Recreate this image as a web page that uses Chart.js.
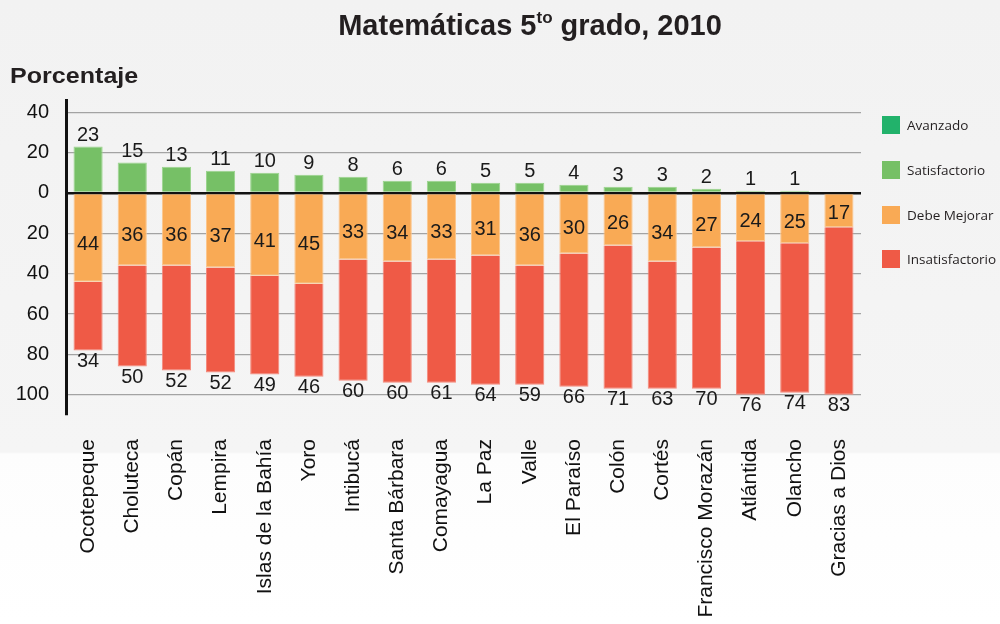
<!DOCTYPE html>
<html>
<head>
<meta charset="utf-8">
<script src="https://cdn.jsdelivr.net/npm/chart.js@4/dist/chart.umd.min.js"></script>
<style>
  html, body { margin:0; padding:0; }
  body { width:1000px; height:624px; position:relative; overflow:hidden;
         background: linear-gradient(to bottom, #f2f2f2 0px, #f5f5f5 452px, #fdfdfd 454px, #ffffff 624px);
         font-family: "Liberation Sans", Arial, sans-serif; }
  #wrap { position:absolute; left:0; top:0; width:1000px; height:624px; }
  #title { position:absolute; left:0; width:1060px; top:9px; text-align:center;
           font-weight:bold; font-size:29px; color:#231f20; }
  #title sup { font-size:17px; position:relative; top:0px; vertical-align:top; line-height:1; }
  #ylab { position:absolute; left:10px; top:63px; font-weight:bold; font-size:22px; color:#231f20;
          transform:scaleX(1.14); transform-origin:left top; }
  .leg { position:absolute; left:882px; font-family:"Open Sans", "Noto Sans", sans-serif; font-size:13.5px; color:#231f20; }
  .leg span.box { position:absolute; left:0; top:0; width:18px; height:18px; }
  .leg span.txt { position:absolute; left:25px; top:0px; white-space:nowrap; line-height:18px; }
</style>
</head>
<body>
<div id="wrap"><canvas id="c" width="1000" height="624"></canvas></div>
<div id="title">Matemáticas 5<sup>to</sup> grado, 2010</div>
<div id="ylab">Porcentaje</div>
<div id="legend"></div>
<script>
const categories = ["Ocotepeque","Choluteca","Copán","Lempira","Islas de la Bahía","Yoro","Intibucá","Santa Bárbara","Comayagua","La Paz","Valle","El Paraíso","Colón","Cortés","Francisco Morazán","Atlántida","Olancho","Gracias a Dios"];
const avanzado        = [0,0,0,0,0,0,0,0,0,0,0,0,0,0,0,0,0,0];
const satisfactorio   = [23,15,13,11,10,9,8,6,6,5,5,4,3,3,2,1,1,0];
const debeMejorar     = [44,36,36,37,41,45,33,34,33,31,36,30,26,34,27,24,25,17];
const insatisfactorio = [34,50,52,52,49,46,60,60,61,64,59,66,71,63,70,76,74,83];
const yTicks = [-100,-80,-60,-40,-20,0,20,40];

const seriesNames = ["Avanzado","Satisfactorio","Debe Mejorar","Insatisfactorio"];
const colors = { "Avanzado":"#22b26b", "Satisfactorio":"#76c066", "Debe Mejorar":"#f9aa55", "Insatisfactorio":"#ef5a46" };
const edges  = { "Avanzado":"#5fc990", "Satisfactorio":"#9ad48d", "Debe Mejorar":"#fcc68c", "Insatisfactorio":"#f48a7c" };

// legend
const legY = [116, 161, 206, 250];
const legDiv = document.getElementById('legend');
seriesNames.forEach((n,i)=>{
  const d = document.createElement('div');
  d.className='leg'; d.style.top = legY[i]+'px';
  d.innerHTML = '<span class="box" style="background:'+colors[n]+'"></span><span class="txt">'+n+'</span>';
  legDiv.appendChild(d);
});

const neg = a => a.map(v => -v);

const labelPlugin = {
  id:'vals',
  afterDatasetsDraw(chart){
    const ctx = chart.ctx;
    ctx.save();
    ctx.font = '20px "Liberation Sans", Arial, sans-serif';
    ctx.fillStyle = '#1a1a1a';
    ctx.textAlign = 'center';
    chart.data.datasets.forEach((ds, di)=>{
      const meta = chart.getDatasetMeta(di);
      meta.data.forEach((el, i)=>{
        const raw = ds.rawVals[i];
        if (!raw) return;
        const top = Math.min(el.y, el.base), bot = Math.max(el.y, el.base);
        if (ds.label === 'Satisfactorio') {
          ctx.textBaseline = 'bottom';
          ctx.fillText(String(raw), el.x, top - 1);
        } else if (ds.label === 'Debe Mejorar') {
          ctx.textBaseline = 'middle';
          const h = bot - top;
          ctx.fillText(String(raw), el.x, top + Math.min(h*0.58, 50));
        } else if (ds.label === 'Insatisfactorio') {
          ctx.textBaseline = 'top';
          ctx.fillText(String(raw), el.x, bot + 1);
        }
      });
    });
    ctx.restore();
  }
};

const mk = (name, data, raw) => ({ label:name, data, rawVals:raw, backgroundColor: colors[name],
  borderColor: edges[name], borderWidth: 1 });

new Chart(document.getElementById('c'), {
  type:'bar',
  data:{
    labels: categories,
    datasets:[
      mk('Satisfactorio', satisfactorio, satisfactorio),
      mk('Avanzado', avanzado, avanzado),
      mk('Debe Mejorar', neg(debeMejorar), debeMejorar),
      mk('Insatisfactorio', neg(insatisfactorio), insatisfactorio)
    ]
  },
  options:{
    responsive:false,
    animation:false,
    devicePixelRatio:1,
    layout:{ padding:{ top:100, right:139, left:0, bottom:0 } },
    datasets:{ bar:{ barPercentage:0.66, categoryPercentage:1.0 } },
    plugins:{ legend:{ display:false }, tooltip:{ enabled:false } },
    scales:{
      x:{
        stacked:true,
        grid:{ display:false },
        border:{ display:false },
        ticks:{ minRotation:90, maxRotation:90, autoSkip:false, color:'#111',
                font:{ family:'"Liberation Sans", Arial, sans-serif', size:21 }, padding:16 },
        afterFit(s){ s.height = 209; }
      },
      y:{
        stacked:true,
        min:-110, max:46,
        afterBuildTicks(s){ s.ticks = yTicks.map(v=>({value:v})); },
        ticks:{ callback:v => String(Math.abs(v)), color:'#111', padding:17,
                font:{ family:'"Liberation Sans", Arial, sans-serif', size:20 } },
        grid:{
          drawTicks:false,
          color: c => c.tick && c.tick.value === 0 ? '#111' : '#a3a3a3',
          lineWidth: c => c.tick && c.tick.value === 0 ? 2.5 : 1.2
        },
        border:{ display:true, color:'#111', width:3 },
        afterFit(s){ s.width = 66; }
      }
    }
  },
  plugins:[labelPlugin]
});
</script>
</body>
</html>
